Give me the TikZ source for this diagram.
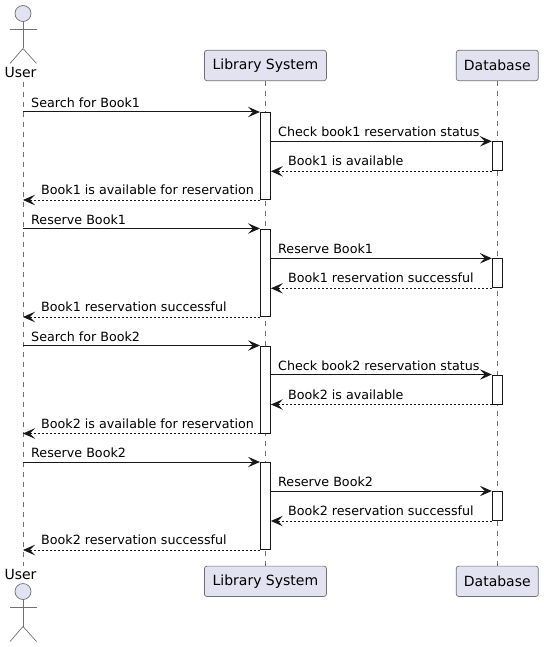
\documentclass[tikz,border=0pt]{standalone}
\usepackage{fontspec}
\setmainfont{DejaVu Sans}
\usetikzlibrary{arrows.meta}
\definecolor{partfill}{HTML}{E2E2F0}
\definecolor{umlline}{HTML}{181818}
\definecolor{umlthin}{HTML}{707070}
\tikzset{
  part/.style={draw=umlthin,line width=0.7pt,fill=partfill,rounded corners=2.5pt,minimum height=30.4pt,inner sep=0pt,font=\fontsize{14}{16}\selectfont},
  lifeline/.style={draw=umlthin,line width=0.7pt,dash pattern=on 5pt off 5pt},
  act/.style={draw=umlline,line width=1pt,fill=white,minimum width=10pt,inner sep=0pt,anchor=north},
  call/.style={draw=umlline,line width=1pt,-{Stealth[length=12pt,width=10.5pt,inset=5pt]}},
  back/.style={call,dash pattern=on 2pt off 2pt},
  msg/.style={anchor=base west,inner sep=0pt,font=\fontsize{12.7}{15}\selectfont},
  stick/.style={draw=umlthin,line width=0.7pt},
  head/.style={circle,stick,fill=partfill,minimum size=16pt,inner sep=0pt},
  actorname/.style={inner sep=0pt,font=\fontsize{14}{16}\selectfont}
}
\begin{document}
\begin{tikzpicture}[x=1pt,y=-1pt]
   \useasboundingbox (0,0) rectangle (543,647);
   % heads and feet of the lifelines
   \node[part,minimum width=122pt] (libtop) at (265.4,65.5) {Library System};
   \node[part,minimum width=82pt] (dbtop) at (497.3,65.5) {Database};
   \node[part,minimum width=122pt] (libbot) at (265.4,581.3) {Library System};
   \node[part,minimum width=82pt] (dbbot) at (497.3,581.3) {Database};
   \node[actorname] (usertop) at (20.5,72) {User};
   \node[actorname] (userbot) at (20.5,574) {User};
   \coordinate (ustart) at (23,82);
   \coordinate (uend) at (23,566);
   \draw[lifeline] (ustart) -- (uend);
   \draw[lifeline] (libtop) -- (libbot);
   \draw[lifeline] (dbtop) -- (dbbot);
   % top actor
   \begin{scope}
    \node[head] (headtop) at (23,13.5) {};
    \draw[stick] (headtop.south) -- (23,48.5);
    \draw[stick] (10,29) -- (36.5,29);
    \draw[stick] (10,63.5) -- (23,48.5) -- (36.5,63.5);
   \end{scope}
   % bottom actor
   \begin{scope}[yshift=-578pt]
    \node[head] (headbot) at (23,13.5) {};
    \draw[stick] (headbot.south) -- (23,48.5);
    \draw[stick] (10,29) -- (36.5,29);
    \draw[stick] (10,63.5) -- (23,48.5) -- (36.5,63.5);
   \end{scope}
   % activations
   \node[act,minimum height=87pt] (lib1) at (265.4,112) {};
   \node[act,minimum height=29pt] (db1) at (497.3,141.3) {};
   \node[act,minimum height=87.5pt] (lib2) at (265.4,228.5) {};
   \node[act,minimum height=29pt] (db2) at (497.3,258.3) {};
   \node[act,minimum height=87pt] (lib3) at (265.4,345.5) {};
   \node[act,minimum height=29pt] (db3) at (497.3,374.5) {};
   \node[act,minimum height=87pt] (lib4) at (265.4,462) {};
   \node[act,minimum height=29pt] (db4) at (497.3,491) {};
   % first search
   \draw[call] (ustart |- lib1.north west) -- (lib1.north west);
   \draw[call] (lib1.east |- db1.north west) -- (db1.north west);
   \draw[back] (db1.south west) -- (lib1.east |- db1.south west);
   \draw[back] (lib1.south west) -- (ustart |- lib1.south west);
   \node[msg] (m1) at (31,107.5) {Search for Book1};
   \node[msg] (m2) at (278,136.5) {Check book1 reservation status};
   \node[msg] (m3) at (288,165.5) {Book1 is available};
   \node[msg] (m4) at (41,194.5) {Book1 is available for reservation};
   % first reservation
   \draw[call] (ustart |- lib2.north west) -- (lib2.north west);
   \draw[call] (lib2.east |- db2.north west) -- (db2.north west);
   \draw[back] (db2.south west) -- (lib2.east |- db2.south west);
   \draw[back] (lib2.south west) -- (ustart |- lib2.south west);
   \node[msg] (m5) at (31,224) {Reserve Book1};
   \node[msg] (m6) at (278,253.5) {Reserve Book1};
   \node[msg] (m7) at (288,282.5) {Book1 reservation successful};
   \node[msg] (m8) at (41,311.5) {Book1 reservation successful};
   % second search
   \draw[call] (ustart |- lib3.north west) -- (lib3.north west);
   \draw[call] (lib3.east |- db3.north west) -- (db3.north west);
   \draw[back] (db3.south west) -- (lib3.east |- db3.south west);
   \draw[back] (lib3.south west) -- (ustart |- lib3.south west);
   \node[msg] (m9) at (31,341) {Search for Book2};
   \node[msg] (m10) at (278,370) {Check book2 reservation status};
   \node[msg] (m11) at (288,399) {Book2 is available};
   \node[msg] (m12) at (41,428) {Book2 is available for reservation};
   % second reservation
   \draw[call] (ustart |- lib4.north west) -- (lib4.north west);
   \draw[call] (lib4.east |- db4.north west) -- (db4.north west);
   \draw[back] (db4.south west) -- (lib4.east |- db4.south west);
   \draw[back] (lib4.south west) -- (ustart |- lib4.south west);
   \node[msg] (m13) at (31,457.5) {Reserve Book2};
   \node[msg] (m14) at (278,486.5) {Reserve Book2};
   \node[msg] (m15) at (288,515.5) {Book2 reservation successful};
   \node[msg] (m16) at (41,544.5) {Book2 reservation successful};
\end{tikzpicture}
\end{document}
